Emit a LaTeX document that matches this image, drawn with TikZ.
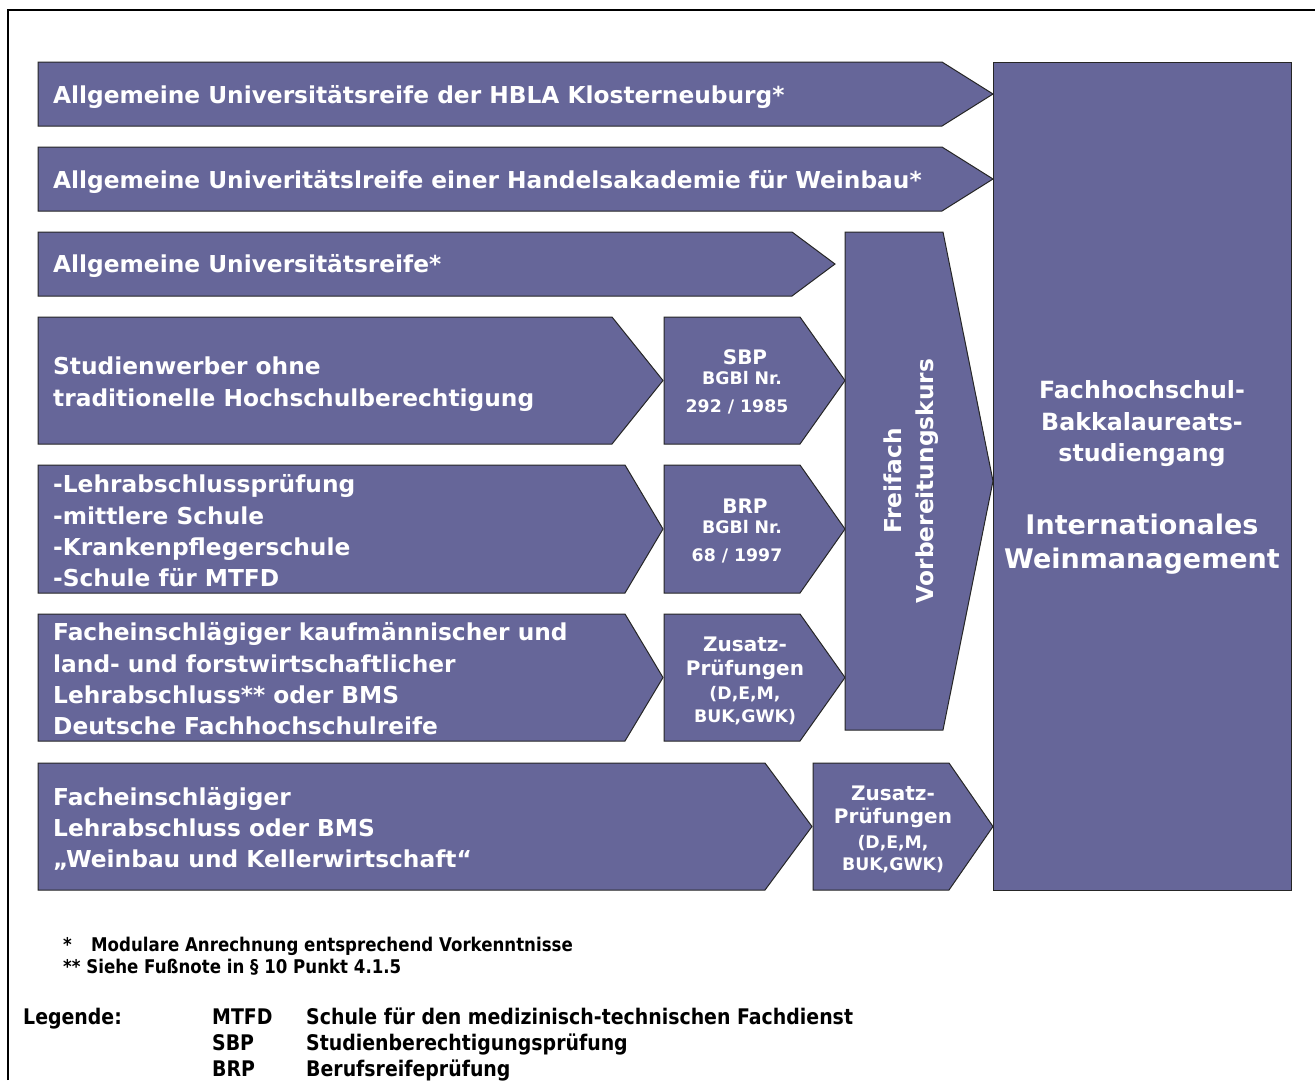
\documentclass[tikz,border=0pt]{standalone}
\usepackage{fontspec}
\setmainfont{DejaVu Sans}
\newfontfamily\condfont[FakeStretch=0.88]{DejaVu Sans}
\definecolor{boxfill}{RGB}{102,102,153}
\tikzset{
  box/.style={draw=black!85, line width=1pt, fill=boxfill},
  wtxt/.style={text=white, font=\bfseries\fontsize{23.3}{31.3}\selectfont, inner sep=0pt},
  wleft/.style={wtxt, anchor=west, align=left},
  smallbig/.style={text=white, font=\bfseries\fontsize{20}{24}\selectfont, inner sep=0pt},
  smallsm/.style={text=white, font=\bfseries\fontsize{17.3}{20}\selectfont, inner sep=0pt},
  foot/.style={text=black, font=\condfont\bfseries\fontsize{18.9}{22}\selectfont, inner sep=0pt, anchor=base west},
  legend/.style={text=black, font=\condfont\bfseries\fontsize{21.5}{25}\selectfont, inner sep=0pt, anchor=base west}
}
\newcommand{\chevron}[5]{\draw[box] (#1,#2) -- (#3,#2) -- (#4,{(#2+#5)/2}) -- (#3,#5) -- (#1,#5) -- cycle;}
\begin{document}
\begin{tikzpicture}[x=1pt,y=-1pt]
\useasboundingbox (0,0) rectangle (1315,1080);
\fill[white] (0,0) rectangle (1315,1080);
\draw[line width=2pt] (8,1080) -- (8,10) -- (1315,10);

% shapes
\chevron{38}{62}{942}{993}{126}
\chevron{38}{147}{942}{993}{211}
\chevron{38}{232}{792}{835}{296}
\chevron{38}{317}{612}{663}{444}
\chevron{664}{317}{800}{845}{444}
\chevron{38}{465}{625}{663}{593}
\chevron{664}{465}{800}{845}{593}
\chevron{38}{614}{625}{663}{741}
\chevron{664}{614}{800}{845}{741}
\chevron{38}{763}{765}{812}{890}
\chevron{813}{763}{949}{993}{890}
\draw[box] (845,232) -- (943,232) -- (993,481) -- (943,730) -- (845,730) -- cycle;
\draw[box] (993,62) rectangle (1291,890);

% row texts
\node[wleft] (r1) at (53,97) {Allgemeine Universitätsreife der HBLA Klosterneuburg*};
\node[wleft] (r2) at (53,182) {Allgemeine Univeritätslreife einer Handelsakademie für Weinbau*};
\node[wleft] (r3) at (53,266) {Allgemeine Universitätsreife*};
\node[wleft, font=\bfseries\fontsize{23.3}{32}\selectfont] (r4) at (53,384) {Studienwerber ohne\\traditionelle Hochschulberechtigung};
\node[wleft] (r5) at (53,531) {-Lehrabschlussprüfung\\-mittlere Schule\\-Krankenpflegerschule\\-Schule für MTFD};
\node[wleft] (r6) at (53,679) {Facheinschlägiger kaufmännischer und\\land- und forstwirtschaftlicher\\Lehrabschluss** oder BMS\\Deutsche Fachhochschulreife};
\node[wleft, font=\bfseries\fontsize{23.3}{31}\selectfont] (r7) at (53,829) {Facheinschlägiger\\Lehrabschluss oder BMS\\„Weinbau und Kellerwirtschaft“};

% small boxes
\node[smallbig] (sbp1) at (745,357) {SBP};
\node[smallsm] (sbp2) at (742,378) {BGBl Nr.};
\node[smallsm] (sbp3) at (737,407) {292 / 1985};
\node[smallbig] (brp1) at (745,506) {BRP};
\node[smallsm] (brp2) at (742,527) {BGBl Nr.};
\node[smallsm] (brp3) at (737,556) {68 / 1997};
\node[smallbig] (za1) at (745,644) {Zusatz-};
\node[smallbig] (za2) at (745,670) {Prüfungen};
\node[smallsm] (za3) at (745,694) {(D,E,M,};
\node[smallsm] (za4) at (745,717) {BUK,GWK)};
\node[smallbig] (zb1) at (893,793) {Zusatz-};
\node[smallbig] (zb2) at (893,818) {Prüfungen};
\node[smallsm] (zb3) at (893,843) {(D,E,M,};
\node[smallsm] (zb4) at (893,865) {BUK,GWK)};

% Freifach
\node[wtxt, font=\bfseries\fontsize{23.3}{31.5}\selectfont, rotate=90, align=center] (ff) at (911,481) {Freifach\\Vorbereitungskurs};

% target
\node[wtxt, font=\bfseries\fontsize{23.7}{31.5}\selectfont, align=center] (t1) at (1142,424) {Fachhochschul-\\Bakkalaureats-\\studiengang};
\node[text=white, font=\bfseries\fontsize{27}{34}\selectfont, inner sep=0pt, align=center] (t2) at (1142,544) {Internationales\\Weinmanagement};

% footnotes
\node[foot] (f1) at (63,951) {*};
\node[foot] (f1b) at (91,951) {Modulare Anrechnung entsprechend Vorkenntnisse};
\node[foot] (f2) at (63,973) {** Siehe Fußnote in § 10 Punkt 4.1.5};
\node[legend] (lg) at (23,1024) {Legende:};
\node[legend] (lg1a) at (212,1024) {MTFD};
\node[legend] (lg1b) at (306,1024) {Schule für den medizinisch-technischen Fachdienst};
\node[legend] (lg2a) at (212,1050) {SBP};
\node[legend] (lg2b) at (306,1050) {Studienberechtigungsprüfung};
\node[legend] (lg3a) at (212,1076) {BRP};
\node[legend] (lg3b) at (306,1076) {Berufsreifeprüfung};
\end{tikzpicture}
\end{document}
